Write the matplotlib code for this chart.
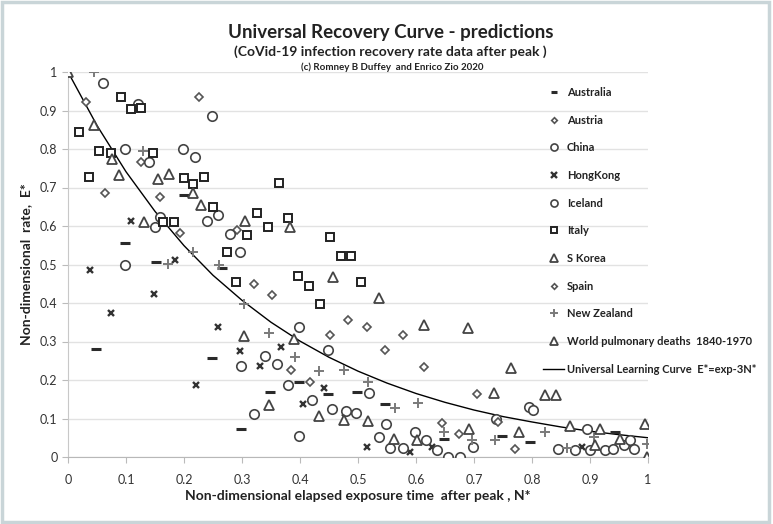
import matplotlib
matplotlib.use('Agg')
import matplotlib.pyplot as plt
from matplotlib.patches import Rectangle

plt.rcParams['font.family'] = ['Lato', 'DejaVu Sans']

# ---- data (N*, E*) ----
australia_x = [0.200, 0.098, 0.151, 0.265, 0.049, 0.249, 0.349, 0.298, 0.399, 0.449, 0.498,
               0.547, 0.648, 0.748, 0.797, 0.943]
australia_y = [0.680, 0.555, 0.506, 0.490, 0.281, 0.258, 0.168, 0.072, 0.196, 0.163, 0.168,
               0.137, 0.048, 0.055, 0.040, 0.066]

austria_x = [0.031, 0.225, 0.064, 0.159, 0.193, 0.126, 0.291, 0.321, 0.352, 0.384, 0.418]
austria_y = [0.923, 0.934, 0.687, 0.675, 0.581, 0.765, 0.590, 0.449, 0.421, 0.226, 0.195]

spain_x = [0.482, 0.516, 0.451, 0.578, 0.547, 0.613, 0.706, 0.644, 0.674, 0.771, 0.742]
spain_y = [0.356, 0.337, 0.317, 0.317, 0.278, 0.235, 0.164, 0.089, 0.061, 0.021, 0.092]

china_x = [0.060, 0.120, 0.249, 0.099, 0.140, 0.199, 0.219, 0.159, 0.150, 0.259, 0.239,
           0.279, 0.297, 0.099, 0.399, 0.340, 0.360, 0.298, 0.379, 0.320, 0.398, 0.420,
           0.449, 0.456]
china_y = [0.972, 0.918, 0.887, 0.800, 0.766, 0.800, 0.780, 0.624, 0.598, 0.628, 0.613,
           0.579, 0.533, 0.500, 0.337, 0.262, 0.242, 0.236, 0.187, 0.111, 0.055, 0.148,
           0.278, 0.124]

iceland_x = [0.480, 0.497, 0.519, 0.548, 0.537, 0.555, 0.577, 0.598, 0.618, 0.636, 0.656,
             0.676, 0.699, 0.738, 0.795, 0.802, 0.845, 0.874, 0.894, 0.900, 0.926, 0.940,
             0.958, 0.969, 0.975]
iceland_y = [0.120, 0.113, 0.165, 0.087, 0.051, 0.023, 0.023, 0.066, 0.044, 0.018, 0.001,
             0.001, 0.027, 0.100, 0.130, 0.122, 0.020, 0.018, 0.074, 0.018, 0.018, 0.020,
             0.031, 0.044, 0.020]

hongkong_x = [0.109, 0.038, 0.184, 0.148, 0.074, 0.259, 0.368, 0.297, 0.331, 0.221, 0.406,
              0.441, 0.478, 0.516, 0.590, 0.627, 0.886]
hongkong_y = [0.613, 0.486, 0.512, 0.423, 0.373, 0.337, 0.287, 0.276, 0.236, 0.187, 0.138,
              0.178, 0.115, 0.025, 0.014, 0.025, 0.025]

italy_x = [0.091, 0.108, 0.126, 0.019, 0.053, 0.074, 0.146, 0.036, 0.200, 0.216, 0.234,
           0.250, 0.325, 0.344, 0.380, 0.363, 0.164, 0.182, 0.308, 0.274, 0.452, 0.471,
           0.488, 0.290, 0.397, 0.415, 0.505, 0.434]
italy_y = [0.934, 0.905, 0.907, 0.843, 0.796, 0.790, 0.789, 0.726, 0.724, 0.709, 0.726,
           0.650, 0.633, 0.598, 0.620, 0.711, 0.610, 0.611, 0.577, 0.533, 0.571, 0.523,
           0.523, 0.455, 0.471, 0.445, 0.455, 0.397]

skorea_x = [0.000, 0.044, 0.076, 0.088, 0.155, 0.174, 0.216, 0.229, 0.131, 0.305, 0.382,
            0.457, 0.304, 0.390, 0.347, 0.433, 0.476]
skorea_y = [1.000, 0.862, 0.773, 0.733, 0.721, 0.735, 0.685, 0.655, 0.611, 0.613, 0.598,
            0.468, 0.314, 0.306, 0.135, 0.106, 0.096]

newzealand_x = [0.044, 0.130, 0.216, 0.173, 0.261, 0.303, 0.347, 0.391, 0.433, 0.475, 0.518,
                0.563, 0.604, 0.648, 0.696, 0.736, 0.822, 0.860, 0.907, 0.998]
newzealand_y = [1.000, 0.796, 0.533, 0.501, 0.500, 0.397, 0.321, 0.259, 0.224, 0.226, 0.194,
                0.128, 0.139, 0.066, 0.044, 0.044, 0.066, 0.023, 0.051, 0.035]

world_x = [0.536, 0.518, 0.562, 0.601, 0.614, 0.690, 0.763, 0.735, 0.822, 0.841, 0.692,
           0.778, 0.866, 0.917, 0.995, 0.952, 0.909, 0.998]
world_y = [0.414, 0.094, 0.046, 0.044, 0.343, 0.334, 0.230, 0.165, 0.161, 0.161, 0.074,
           0.066, 0.081, 0.074, 0.087, 0.046, 0.031, 0.000]

# universal learning curve
curve_x = [0.00, 0.05, 0.10, 0.15, 0.20, 0.25, 0.30, 0.35, 0.40, 0.45, 0.50,
           0.55, 0.60, 0.65, 0.70, 0.75, 0.80, 0.85, 0.90, 0.95, 1.00]
curve_y = [1.000, 0.861, 0.741, 0.638, 0.549, 0.472, 0.407, 0.350, 0.301, 0.259, 0.223,
           0.192, 0.165, 0.142, 0.122, 0.105, 0.091, 0.078, 0.067, 0.058, 0.050]

fig = plt.figure(figsize=(7.73, 5.24), dpi=100)
ax = fig.add_axes([68 / 773, 1 - 457 / 524, 580 / 773, 385 / 524])

h_cur, = ax.plot(curve_x, curve_y, color='black', lw=1.0, zorder=2,
                 label='Universal Learning Curve  E*=exp-3N*')

h_aus, = ax.plot(australia_x, australia_y, ls='none', marker='_', ms=6.5, mew=2.2,
                 color='#2a2a2a', label='Australia', zorder=3)
h_aut, = ax.plot(austria_x, austria_y, ls='none', marker='D', ms=3.8, mew=1.2,
                 mfc='white', mec='#555555', label='Austria', zorder=3)
h_chi, = ax.plot(china_x, china_y, ls='none', marker='o', ms=6.8, mew=1.2,
                 mfc='white', mec='#444444', label='China', zorder=3)
h_hk, = ax.plot(hongkong_x, hongkong_y, ls='none', marker='x', ms=5, mew=1.7,
                color='#333333', label='HongKong', zorder=3)
h_ice, = ax.plot(iceland_x, iceland_y, ls='none', marker='o', ms=6.8, mew=1.2,
                 mfc='white', mec='#444444', label='Iceland', zorder=3)
h_ita, = ax.plot(italy_x, italy_y, ls='none', marker='s', ms=6.3, mew=1.4,
                 mfc='white', mec='#222222', label='Italy', zorder=3)
h_sk, = ax.plot(skorea_x, skorea_y, ls='none', marker='^', ms=7.3, mew=1.3,
                mfc='white', mec='#444444', label='S Korea', zorder=3)
h_spa, = ax.plot(spain_x, spain_y, ls='none', marker='D', ms=3.8, mew=1.2,
                 mfc='white', mec='#555555', label='Spain', zorder=3)
h_nz, = ax.plot(newzealand_x, newzealand_y, ls='none', marker='+', ms=7.5, mew=1.4,
                color='#7a7a7a', label='New Zealand', zorder=3)
h_wor, = ax.plot(world_x, world_y, ls='none', marker='^', ms=7.3, mew=1.3,
                 mfc='white', mec='#444444', label='World pulmonary deaths  1840-1970', zorder=3)

ax.set_xlim(0, 1)
ax.set_ylim(0, 1)
ax.set_xticks([0, 0.1, 0.2, 0.3, 0.4, 0.5, 0.6, 0.7, 0.8, 0.9, 1])
ax.set_xticklabels(['0', '0.1', '0.2', '0.3', '0.4', '0.5', '0.6', '0.7', '0.8', '0.9', '1'])
ax.set_yticks([0, 0.1, 0.2, 0.3, 0.4, 0.5, 0.6, 0.7, 0.8, 0.9, 1])
ax.set_yticklabels(['0', '0.1', '0.2', '0.3', '0.4', '0.5', '0.6', '0.7', '0.8', '0.9', '1'])
ax.yaxis.grid(True, color='#e2e2e2', lw=1.0, zorder=0)
ax.set_axisbelow(True)
for side in ['top', 'right']:
    ax.spines[side].set_visible(False)
ax.spines['left'].set_color('#c8c8c8')
ax.spines['bottom'].set_color('#b8b8b8')
ax.tick_params(axis='both', colors='#bbbbbb', labelcolor='#333333', labelsize=9, length=4)
ax.tick_params(axis='x', pad=8)

ax.set_xlabel('Non-dimensional elapsed exposure time  after peak , N*', fontsize=10,
              fontweight='bold', color='#222222', labelpad=3)
ax.set_ylabel('Non-dimensional  rate,  E*', fontsize=10, fontweight='bold',
              color='#222222', labelpad=6)

fig.text(0.505, 0.938, 'Universal Recovery Curve - predictions', ha='center', va='center',
         fontsize=13.5, fontweight='bold', color='#222222')
fig.text(0.505, 0.902, '(CoVid-19 infection recovery rate data after peak )', ha='center',
         va='center', fontsize=10, fontweight='bold', color='#222222')
fig.text(0.507, 0.872, '(c) Romney B Duffey  and Enrico Zio 2020', ha='center',
         va='center', fontsize=7, fontweight='bold', color='#222222')

handles = [h_aus, h_aut, h_chi, h_hk, h_ice, h_ita, h_sk, h_spa, h_nz, h_wor, h_cur]
leg = ax.legend(handles=handles, loc='upper left', bbox_to_anchor=(533 / 773, 1 - 77 / 524),
                bbox_transform=fig.transFigure, frameon=False, fontsize=8,
                labelspacing=1.5, handlelength=1.9, handletextpad=0.25, markerscale=0.75)
for t in leg.get_texts():
    t.set_fontweight('bold')
    t.set_color('#222222')

fig.patches.append(Rectangle((0.003, 0.004), 0.992, 0.992, transform=fig.transFigure,
                             fill=False, edgecolor='#c9d5d8', lw=2.5))

fig.savefig('out.png', dpi=100)
